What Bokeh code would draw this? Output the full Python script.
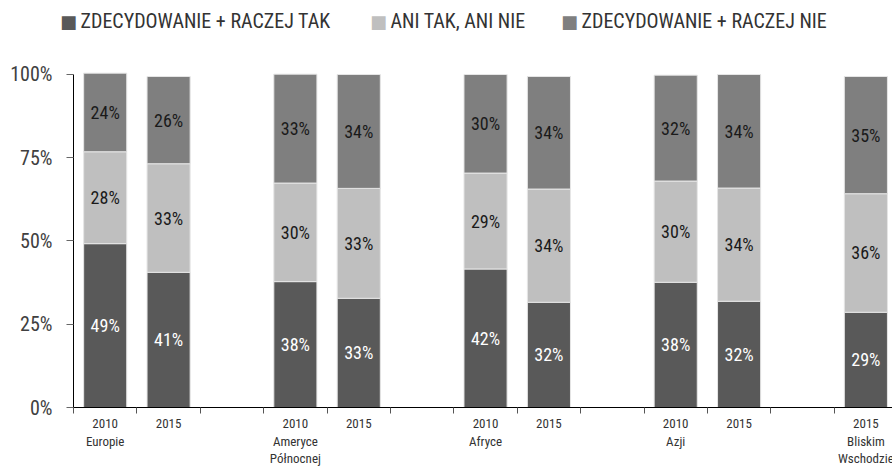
from bokeh.plotting import figure
from bokeh.embed import file_html
from bokeh.resources import INLINE
from bokeh.core.properties import value
from bokeh.models import ColumnDataSource, Range1d, FixedTicker

# ---- data ----
groups = ["Europie", "Ameryce\nPółnocnej", "Afryce", "Azji", "Bliskim\nWschodzie"]
group_years = [["2010", "2015"], ["2010", "2015"], ["2010", "2015"], ["2010", "2015"], ["2015"]]
series_names = ["ZDECYDOWANIE + RACZEJ TAK", "ANI TAK, ANI NIE", "ZDECYDOWANIE + RACZEJ NIE"]
tak = [49.2, 40.6, 37.8, 32.8, 41.6, 31.6, 37.6, 31.9, 28.6]
ani = [27.6, 32.6, 29.6, 33.0, 28.8, 34.0, 30.4, 34.0, 35.6]
nie = [23.6, 26.2, 32.7, 34.2, 29.6, 33.8, 31.8, 34.1, 35.2]
y_ticks = [0, 25, 50, 75, 100]
y_tick_labels = ["0%", "25%", "50%", "75%", "100%"]

colors = ["#595959", "#bfbfbf", "#7f7f7f"]
label_colors = ["white", "#1a1a1a", "#1a1a1a"]
FONT = "Roboto Condensed"

# ---- layout constants (pixels) ----
W, H = 892, 468
LEFT, TOP, BOTTOM = 73, 71, 61
X_END = 12.92          # slots visible in the frame
Y_END = 100.9          # percent at the frame top
frame_w = W - LEFT
frame_h = H - TOP - BOTTOM


def px_to_x(px):
    return (px - LEFT) / frame_w * X_END


def py_to_y(py):
    return (H - BOTTOM - py) / frame_h * Y_END


# slot positions: 3 slots per group, bars fill the first slots of each group
xs, row1, row2, row3 = [], [], [], []
for g, (name, yrs) in enumerate(zip(groups, group_years)):
    parts = name.split("\n") + [""]
    for j, yr in enumerate(yrs):
        xs.append(g * 3 + j + 0.5)
        row1.append(yr)
        row2.append(parts[0] if j == 0 else "")
        row3.append(parts[1] if j == 0 else "")

src = ColumnDataSource(dict(x=xs, tak=tak, ani=ani, nie=nie))

n_slots = 3 * len(groups) - 2
p = figure(width=W, height=H, output_backend="svg", toolbar_location=None,
           x_range=Range1d(0, X_END), y_range=Range1d(0, Y_END),
           min_border_left=LEFT, min_border_right=0, min_border_top=TOP, min_border_bottom=BOTTOM)
p.outline_line_color = None
p.grid.grid_line_color = None
p.background_fill_color = "white"
p.border_fill_color = "white"

renderers = p.vbar_stack(["tak", "ani", "nie"], x="x", width=0.68, source=src,
                         color=colors, line_color="#e6e6e6", line_width=1)

# segment labels
bottoms = [0.0] * len(xs)
for k, vals in enumerate([tak, ani, nie]):
    mids = [b + v / 2 for b, v in zip(bottoms, vals)]
    texts = ["%d%%" % int(round(v)) for v in vals]
    p.text(x=xs, y=mids, text=texts, text_align="center", text_baseline="middle",
           text_font=value(FONT), text_font_size="18px", text_color=label_colors[k])
    bottoms = [b + v for b, v in zip(bottoms, vals)]

# y axis
yax = p.yaxis[0]
yax.ticker = FixedTicker(ticks=y_ticks, minor_ticks=[])
yax.major_label_overrides = {t: l for t, l in zip(y_ticks, y_tick_labels)}
yax.major_label_text_font = FONT
yax.major_label_text_font_size = "20px"
yax.major_label_text_color = "#404040"
yax.major_label_standoff = 14
yax.major_tick_in = 0
yax.major_tick_out = 7
yax.major_tick_line_color = "#666666"
yax.axis_line_color = "black"
yax.bounds = (0, 100)

# x axis: tick marks at slot boundaries; category labels drawn below as text rows
xax = p.xaxis[0]
xax.ticker = FixedTicker(ticks=[], minor_ticks=list(range(0, n_slots + 1)))
xax.minor_tick_in = 0
xax.minor_tick_out = 6
xax.minor_tick_line_color = "#555555"
xax.major_tick_line_color = None
xax.major_label_text_font_size = "0px"
xax.axis_line_color = "black"

for rows, py in [(row1, 423), (row2, 441), (row3, 458)]:
    p.text(x=xs, y=[py_to_y(py)] * len(xs), text=rows, text_align="center", text_baseline="middle",
           text_font=value(FONT), text_font_size="13px", text_color="#333333", level="overlay")

# legend row above the plot (overlay text glyphs, not clipped by the frame)
leg_square_left_px = [62, 372, 563]
leg_center_py = 20.5
sq = 12
p.text(x=[px_to_x(l + sq / 2) for l in leg_square_left_px], y=[py_to_y(leg_center_py)] * 3,
       text=["\u25a0"] * 3, text_align="center", text_baseline="middle",
       text_font=value("DejaVu Sans"), text_font_size="18px", text_color=colors, level="overlay")
p.text(x=[px_to_x(l + sq + 6) for l in leg_square_left_px], y=[py_to_y(leg_center_py)] * 3,
       text=series_names, text_align="left", text_baseline="middle",
       text_font=value(FONT), text_font_size="20px", text_color="#333333", level="overlay")

open("out.html", "w").write(file_html(p, INLINE))
